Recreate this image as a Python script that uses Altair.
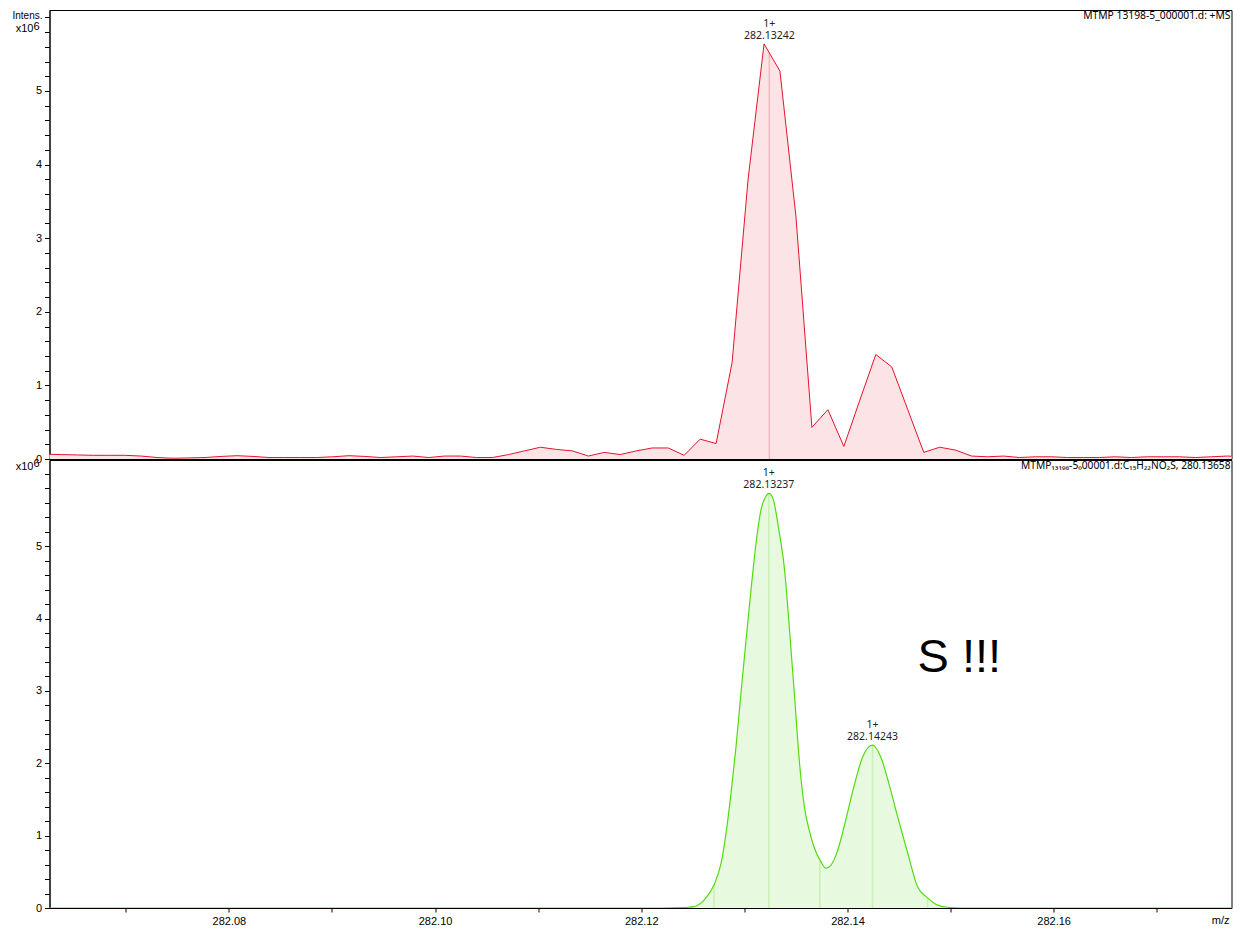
import altair as alt
import pandas as pd

# ---------------- data ----------------
MZ_DOMAIN = [282.0626, 282.17725]

# top panel: +MS profile spectrum (m/z, intensity x10^6)
ms_mz = [282.06220, 282.06375, 282.06530, 282.06685, 282.06839, 282.06994, 282.07149, 282.07304,
         282.07459, 282.07614, 282.07769, 282.07924, 282.08079, 282.08234, 282.08389, 282.08543,
         282.08698, 282.08853, 282.09008, 282.09163, 282.09318, 282.09473, 282.09628, 282.09783,
         282.09938, 282.10092, 282.10247, 282.10402, 282.10557, 282.10712, 282.10867, 282.11022,
         282.11177, 282.11332, 282.11487, 282.11641, 282.11796, 282.11951, 282.12106, 282.12261,
         282.12416, 282.12571, 282.12726, 282.12881, 282.13036, 282.13191, 282.13345, 282.13500,
         282.13655, 282.13810, 282.13965, 282.14120, 282.14275, 282.14430, 282.14585, 282.14740,
         282.14895, 282.15049, 282.15204, 282.15359, 282.15514, 282.15669, 282.15824, 282.15979,
         282.16134, 282.16289, 282.16444, 282.16598, 282.16753, 282.16908, 282.17063, 282.17218,
         282.17373, 282.17528, 282.17683, 282.17838]
ms_int = [0.065, 0.06, 0.055, 0.05, 0.05, 0.05, 0.04, 0.02,
          0.01, 0.015, 0.02, 0.035, 0.045, 0.035, 0.02, 0.02,
          0.02, 0.02, 0.03, 0.045, 0.035, 0.02, 0.03, 0.04,
          0.02, 0.04, 0.04, 0.02, 0.02, 0.06, 0.11, 0.16,
          0.13, 0.11, 0.04, 0.09, 0.06, 0.11, 0.15, 0.15,
          0.05, 0.27, 0.21, 1.31, 3.8, 5.64, 5.27, 3.3,
          0.43, 0.67, 0.17, 0.8, 1.42, 1.25, 0.67, 0.09,
          0.16, 0.12, 0.04, 0.03, 0.04, 0.02, 0.03, 0.03,
          0.02, 0.02, 0.02, 0.03, 0.02, 0.03, 0.03, 0.03,
          0.02, 0.03, 0.04, 0.03]

# bottom panel: simulated isotope pattern C15H22NO2S
sim_mz = [282.0620, 282.12193, 282.12386, 282.12512, 282.12609, 282.12706, 282.12774, 282.12822,
          282.12870, 282.12919, 282.12967, 282.13016, 282.13064, 282.13113, 282.13161, 282.13209,
          282.13237, 282.13277, 282.13335, 282.13390, 282.13438, 282.13487, 282.13535, 282.13584,
          282.13632, 282.13674, 282.13742, 282.13790, 282.13838, 282.13906, 282.13984, 282.14061,
          282.14148, 282.14243, 282.14322, 282.14400, 282.14487, 282.14584, 282.14681, 282.14777,
          282.14874, 282.14971, 282.15097, 282.1785]
sim_int = [0.0, 0.0, 0.005, 0.02, 0.11, 0.32, 0.62, 1.03,
           1.58, 2.23, 2.97, 3.70, 4.39, 5.04, 5.50, 5.69,
           5.73, 5.66, 5.22, 4.67, 3.84, 2.92, 2.00, 1.38,
           1.06, 0.85, 0.64, 0.55, 0.59, 0.80, 1.22, 1.67,
           2.09, 2.25, 2.09, 1.73, 1.26, 0.76, 0.29, 0.14,
           0.04, 0.01, 0.0, 0.0]

# centroid / boundary markers
top_mark_mz = [282.13242]
top_mark_int = [5.52]
bot_mark_mz = [282.12706, 282.13237, 282.13732, 282.14243, 282.14777]
bot_mark_int = [0.32, 5.73, 0.65, 2.25, 0.14]

# peak labels
top_label_mz = [282.13242]
top_label_int = [5.64]
top_label_txt = ["282.13242"]
bot_label_mz = [282.13237, 282.14243]
bot_label_int = [5.73, 2.25]
bot_label_txt = ["282.13237", "282.14243"]
charge_txt = "1+"

top_title = "MTMP 13198-5_000001.d: +MS"
bot_title = "MTMP\u2081\u2083\u2081\u2089\u2088-5\u208000001.d:C\u2081\u2085H\u2082\u2082NO\u2082S, 280.13658"
note_txt = "S !!!"
note_mz = [282.1468]
note_int = [3.45]

x_ticks = [282.07, 282.08, 282.09, 282.10, 282.11, 282.12, 282.13, 282.14, 282.15, 282.16, 282.17]
y_ticks = [round(i * 0.2, 1) for i in range(31)]

# ---------------- styling ----------------
W = 1182
H_TOP = 449
H_BOT = 448
RED = "#e5132b"
RED_FILL = "#fce3e5"
RED_RULE = "#f2b9bf"
GREEN = "#52dc0f"
GREEN_FILL = "#e7fadf"
GREEN_RULE = "#c8f1b3"
AX_FONT = "Liberation Sans"
ANN_FONT = "Noto Sans"

xscale = alt.Scale(domain=MZ_DOMAIN, nice=False, zero=False)
ytop_scale = alt.Scale(domain=[0, 6.1], nice=False)
ybot_scale = alt.Scale(domain=[0, 6.19], nice=False)

yaxis = alt.Axis(values=y_ticks, title=None, grid=False, tickSize=5, labelPadding=3,
                 labelExpr="(abs(datum.value - round(datum.value)) < 0.001 && datum.value < 5.5) ? format(datum.value, 'd') : ''",
                 labelOverlap=False, labelFlush=False,
                 domainColor="black", tickColor="black", labelColor="black",
                 labelFont=AX_FONT, labelFontSize=11)
xaxis = alt.Axis(values=x_ticks, title=None, grid=False, tickSize=4, labelPadding=3,
                 labelExpr="round(datum.value * 100) % 2 == 0 ? format(datum.value, '.2f') : ''",
                 labelOverlap=False, labelFlush=False,
                 domainColor="black", tickColor="black", labelColor="black",
                 labelFont=AX_FONT, labelFontSize=11)


def X(field, axis):
    return alt.X(field, type="quantitative", scale=xscale, axis=axis)


def Y(field, scale, axis):
    return alt.Y(field, type="quantitative", scale=scale, axis=axis)


ms_df = pd.DataFrame({"mz": ms_mz, "intensity": ms_int})
sim_df = pd.DataFrame({"mz": sim_mz, "intensity": sim_int})
top_mark_df = pd.DataFrame({"mz": top_mark_mz, "base": [0.0] * len(top_mark_mz), "top": top_mark_int})
bot_mark_df = pd.DataFrame({"mz": bot_mark_mz, "base": [0.0] * len(bot_mark_mz), "top": bot_mark_int})
top_lab_df = pd.DataFrame({"mz": top_label_mz, "intensity": top_label_int, "label": top_label_txt,
                           "charge": [charge_txt] * len(top_label_mz)})
bot_lab_df = pd.DataFrame({"mz": bot_label_mz, "intensity": bot_label_int, "label": bot_label_txt,
                           "charge": [charge_txt] * len(bot_label_mz)})
note_df = pd.DataFrame({"mz": note_mz, "intensity": note_int, "t": [note_txt]})


def side_text(text, x, y, size, font=AX_FONT, align="right"):
    return alt.Chart(pd.DataFrame({"t": [text]})).mark_text(
        align=align, baseline="middle", font=font, fontSize=size, color="black"
    ).encode(text="t:N", x=alt.value(x), y=alt.value(y))


# ---------------- top panel ----------------
t_area = alt.Chart(ms_df).mark_area(color=RED_FILL, opacity=1, clip=True).encode(
    x=X("mz", None), y=Y("intensity", ytop_scale, yaxis))
t_rule = alt.Chart(top_mark_df).mark_rule(color=RED_RULE, strokeWidth=1.5).encode(
    x=X("mz", None), y=Y("base", ytop_scale, yaxis), y2="top")
t_line = alt.Chart(ms_df).mark_line(color=RED, strokeWidth=1, clip=True).encode(
    x=X("mz", None), y=Y("intensity", ytop_scale, yaxis))
t_lab1 = alt.Chart(top_lab_df).mark_text(font=ANN_FONT, fontSize=10.5, color="#222222",
                                         baseline="middle", dy=-8).encode(
    x=X("mz", None), y=Y("intensity", ytop_scale, yaxis), text="label:N")
t_lab2 = alt.Chart(top_lab_df).mark_text(font=ANN_FONT, fontSize=10.5, color="#222222",
                                         baseline="middle", dy=-20).encode(
    x=X("mz", None), y=Y("intensity", ytop_scale, yaxis), text="charge:N")

top = alt.layer(
    t_area, t_rule, t_line, t_lab1, t_lab2,
    side_text(top_title, W - 1, 6, 10.3, font=ANN_FONT),
    side_text("Intens.", -7, 5.5, 10),
    side_text("x10", -16, 19, 11),
    side_text("6", -16, 17, 11, align="left"),
).properties(width=W, height=H_TOP)

# ---------------- bottom panel ----------------
b_area = alt.Chart(sim_df).mark_area(color=GREEN_FILL, opacity=1, clip=True,
                                     interpolate="monotone").encode(
    x=X("mz", xaxis), y=Y("intensity", ybot_scale, yaxis))
b_rule = alt.Chart(bot_mark_df).mark_rule(color=GREEN_RULE, strokeWidth=1.5).encode(
    x=X("mz", xaxis), y=Y("base", ybot_scale, yaxis), y2="top")
b_line = alt.Chart(sim_df).mark_line(color=GREEN, strokeWidth=1.2, clip=True,
                                     interpolate="monotone").encode(
    x=X("mz", xaxis), y=Y("intensity", ybot_scale, yaxis))
b_lab1 = alt.Chart(bot_lab_df).mark_text(font=ANN_FONT, fontSize=10.5, color="#222222",
                                         baseline="middle", dy=-8).encode(
    x=X("mz", xaxis), y=Y("intensity", ybot_scale, yaxis), text="label:N")
b_lab2 = alt.Chart(bot_lab_df).mark_text(font=ANN_FONT, fontSize=10.5, color="#222222",
                                         baseline="middle", dy=-20).encode(
    x=X("mz", xaxis), y=Y("intensity", ybot_scale, yaxis), text="charge:N")
b_note = alt.Chart(note_df).mark_text(font=AX_FONT, fontSize=47, color="black",
                                      align="left", baseline="middle").encode(
    x=X("mz", xaxis), y=Y("intensity", ybot_scale, yaxis), text="t:N")

bottom = alt.layer(
    b_area, b_rule, b_line, b_lab1, b_lab2, b_note,
    side_text(bot_title, W - 1, 6, 10.2, font=ANN_FONT),
    side_text("x10", -16, 7, 11),
    side_text("6", -16, 4, 11, align="left"),
    side_text("m/z", W - 2, H_BOT + 13, 11),
).properties(width=W, height=H_BOT)

chart = alt.vconcat(top, bottom, spacing=1, bounds="flush").configure_view(
    stroke="black", strokeWidth=1
).properties(
    padding={"left": 3.5, "top": 1, "right": 0, "bottom": 0},
    background="white",
)

chart.save("out.html", embed_options={"renderer": "svg", "actions": False})
